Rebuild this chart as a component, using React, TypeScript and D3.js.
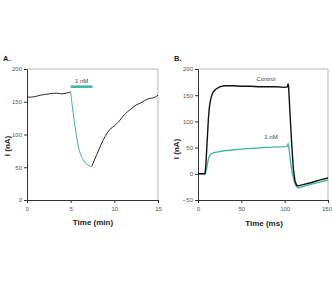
import React, { useEffect, useRef } from 'react';
import * as d3 from 'd3';

// Panel A: current during a 1 nM application (minutes)
const aBeforeT = [0, 0.5, 1, 1.5, 2, 2.5, 3, 3.5, 4, 4.5, 5];
const aBeforeI = [157, 157, 158, 160, 161, 162, 163, 163, 162, 163, 165];
const aDrugT = [5, 5.1, 5.5, 5.9, 6.45, 7.0, 7.4];
const aDrugI = [165, 153, 112, 81, 61, 53, 51];
const aAfterT = [7.4, 7.98, 8.74, 9.5, 10, 10.65, 11, 12, 12.5, 13, 13.5, 14, 14.5, 15];
const aAfterI = [51, 69, 92, 108, 113, 122, 128, 140, 145, 148, 152, 155, 156, 160];
const aBar = [5, 7.5];
const aBarLevel = 173;

// Panel B: current traces in response to a step (ms)
const bControlT = [0, 8, 9, 10, 11, 12, 13, 14, 15, 17, 20, 25, 30, 40, 50, 60, 70, 80, 90, 100, 103, 104, 104.6, 106, 108, 110, 112, 114, 116, 120, 130, 140, 150];
const bControlI = [0, 0, 15, 45, 75, 105, 125, 137, 145, 155, 161, 166, 168, 168, 167, 167, 166, 166, 166, 165, 166, 172, 165, 120, 60, 10, -15, -22, -23, -21, -17, -12, -8];
const bDrugT = [0, 8, 9, 10, 11, 12, 13, 14, 16, 20, 30, 50, 75, 100, 103, 104, 105, 107, 109, 111, 113, 116, 120, 130, 140, 150];
const bDrugI = [0, 0, 3, 10, 20, 28, 33, 36, 39, 41, 44, 47, 50, 52, 53, 57, 48, 20, 0, -15, -23, -27, -25, -20, -16, -12];

const aXTicks = [0, 5, 10, 15];
const aYTicks = [0, 50, 100, 150, 200];
const bXTicks = [0, 50, 100, 150];
const bYTicks = [-50, 0, 50, 100, 150, 200];

const TEAL = '#3cb59f';
const FONT = '"Liberation Sans", Arial, sans-serif';

type G = d3.Selection<SVGGElement, unknown, null, undefined>;
type Scale = d3.ScaleLinear<number, number>;

function frame(g: G, x: Scale, y: Scale, xTicks: number[], yTicks: number[]) {
  const [x0, x1] = x.range();
  const [y0, y1] = y.range();
  // light box on top and right
  g.append('path')
    .attr('d', `M${x0},${y1}H${x1}V${y0}`)
    .attr('fill', 'none')
    .attr('stroke', '#b8b8b8')
    .attr('stroke-width', 1);

  const styleAxis = (ax: G) => {
    ax.select('.domain').attr('stroke', '#333');
    ax.selectAll('line').attr('stroke', '#333');
    ax.selectAll('text')
      .attr('fill', '#555')
      .style('font-family', FONT)
      .style('font-size', '6px');
  };

  const xa = g.append('g')
    .attr('transform', `translate(0,${y0})`)
    .call(d3.axisBottom(x).tickValues(xTicks).tickSize(3).tickSizeOuter(0).tickPadding(4));
  styleAxis(xa);

  const ya = g.append('g')
    .attr('transform', `translate(${x0},0)`)
    .call(d3.axisLeft(y).tickValues(yTicks).tickSize(3).tickSizeOuter(0).tickPadding(2));
  styleAxis(ya);
  return xa;
}

function label(g: G, x: number, y: number, text: string, size: number, bold: boolean, anchor = 'middle', rotate = false) {
  const t = g.append('text')
    .attr('text-anchor', anchor)
    .style('font-family', FONT)
    .style('font-size', `${size}px`)
    .style('font-weight', bold ? 'bold' : 'normal')
    .attr('fill', bold ? '#222' : '#444')
    .text(text);
  if (rotate) t.attr('transform', `translate(${x},${y}) rotate(-90)`);
  else t.attr('x', x).attr('y', y);
}

function trace(ts: number[], vs: number[], xs: Scale, ys: Scale, curve: d3.CurveFactory = d3.curveLinear) {
  return d3.line<number>().x(d => xs(ts[d])).y(d => ys(vs[d])).curve(curve)(d3.range(ts.length));
}

const App: React.FC = () => {
  const svgRef = useRef<SVGSVGElement>(null);

  useEffect(() => {
    if (!svgRef.current) return;
    const svg = d3.select(svgRef.current);
    svg.selectAll('*').remove();
    const g = svg.append('g') as unknown as G;

    // ---- Panel A ----
    const ax = d3.scaleLinear().domain([0, 15]).range([27, 158]);
    const ay = d3.scaleLinear().domain([0, 200]).range([200, 69]);
    frame(g, ax, ay, aXTicks, aYTicks);

    g.append('path').attr('d', trace(aBeforeT, aBeforeI, ax, ay))
      .attr('fill', 'none').attr('stroke', '#2a2a2a').attr('stroke-width', 1);
    g.append('path').attr('d', trace(aAfterT, aAfterI, ax, ay, d3.curveMonotoneX))
      .attr('fill', 'none').attr('stroke', '#2a2a2a').attr('stroke-width', 1);
    g.append('path').attr('d', trace(aDrugT, aDrugI, ax, ay, d3.curveMonotoneX))
      .attr('fill', 'none').attr('stroke', TEAL).attr('stroke-width', 1);

    g.append('line')
      .attr('x1', ax(aBar[0])).attr('x2', ax(aBar[1]))
      .attr('y1', ay(aBarLevel)).attr('y2', ay(aBarLevel))
      .attr('stroke', TEAL).attr('stroke-width', 2.5);
    label(g, (ax(aBar[0]) + ax(aBar[1])) / 2, ay(aBarLevel) - 4, '1 nM', 6, false);

    label(g, 3, 61, 'A.', 7.5, true, 'start');
    label(g, 93, 225, 'Time (min)', 8, true);
    label(g, 10, 146, 'I (nA)', 8, true, 'middle', true);

    // ---- Panel B ----
    const bx = d3.scaleLinear().domain([0, 150]).range([198, 328]);
    const by = d3.scaleLinear().domain([-50, 200]).range([200, 69]);
    const bxAxis = frame(g, bx, by, bXTicks, bYTicks);
    // keep the last tick label inside the page
    bxAxis.selectAll<SVGTextElement, number>('text')
      .filter(d => d === 150)
      .attr('dx', -1.5);

    g.append('path').attr('d', trace(bDrugT, bDrugI, bx, by))
      .attr('fill', 'none').attr('stroke', TEAL).attr('stroke-width', 1.3);
    g.append('path').attr('d', trace(bControlT, bControlI, bx, by))
      .attr('fill', 'none').attr('stroke', '#111').attr('stroke-width', 1.4);

    label(g, 266, 81, 'Control', 6, false);
    label(g, 271, 139, '1 nM', 6, false);

    label(g, 174, 61, 'B.', 7.5, true, 'start');
    label(g, 264, 226, 'Time (ms)', 8, true);
    label(g, 179, 149, 'I (nA)', 8, true, 'middle', true);
  }, []);

  return (
    <svg
      ref={svgRef}
      width={332}
      height={284}
      style={{ position: 'absolute', left: 0, top: 0, background: '#fff' }}
    />
  );
};

export default App;
